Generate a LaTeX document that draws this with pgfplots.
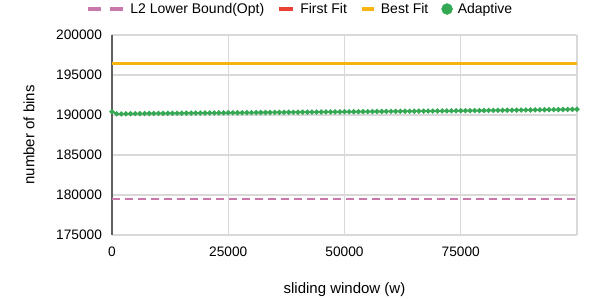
\documentclass[border=0pt]{standalone}
\usepackage{pgfplots}
\pgfplotsset{compat=1.18}
\usepackage{fontspec}
\setmainfont{Liberation Sans}
\definecolor{cpink}{HTML}{C878AA}
\definecolor{cred}{HTML}{EA4335}
\definecolor{cyel}{HTML}{F6B50E}
\definecolor{cgreen}{HTML}{34A853}
\definecolor{cgrid}{HTML}{D9D9D9}
\begin{document}
\begin{tikzpicture}[x=1pt,y=1pt]
\useasboundingbox (-112,-65) rectangle (486,235);
\begin{axis}[
  at={(0,0)}, anchor=south west,
  scale only axis, width=465pt, height=200pt,
  xmin=0, xmax=100000, ymin=175000, ymax=200000,
  xtick={0,25000,50000,75000,100000},
  xticklabels={0,25000,50000,75000,},
  ytick={175000,180000,185000,190000,195000,200000},
  scaled ticks=false,
  /pgf/number format/assume math mode=true,
  yticklabel={\pgfmathprintnumber[fixed,1000 sep={}]{\tick}},
  tick label style={font=\fontsize{13.7}{16}\selectfont},
  label style={font=\fontsize{15}{18}\selectfont},
  xlabel={sliding window (w)}, ylabel={number of bins},
  xlabel style={at={(0.5,0)}, yshift=-44pt},
  ylabel style={at={(0,0.5)}, yshift=74pt},
  grid=major, major grid style={cgrid, line width=1.3pt},
  axis line style={draw=none},
  tick style={draw=none},
  yticklabel style={xshift=-6.5pt},
  xticklabel style={yshift=-8pt},
  clip=false,
  legend style={at={(0.405,1.13)}, anchor=center, draw=none, fill=none,
    legend columns=4, font=\fontsize{14}{16}\selectfont,
    /tikz/every odd column/.append style={column sep=3pt},
    /tikz/every even column/.append style={column sep=11pt}},
]
\draw[cgrid, line width=1.3pt] (axis cs:0,175000) -- (axis cs:100000,175000);
\draw[gray!75!black, line width=1.5pt] (axis cs:0,175000) -- (axis cs:0,200000);
\addlegendimage{legend image code/.code={\draw[cpink, line width=4pt] (0pt,0pt) -- (13pt,0pt); \draw[cpink, line width=4pt] (22pt,0pt) -- (35pt,0pt);}}
\addlegendentry{L2 Lower Bound(Opt)}
\addlegendimage{legend image code/.code={\draw[cred, line width=4pt] (0pt,0pt) -- (14pt,0pt);}}
\addlegendentry{First Fit}
\addlegendimage{legend image code/.code={\draw[cyel, line width=4pt] (0pt,0pt) -- (12pt,0pt);}}
\addlegendentry{Best Fit}
\addlegendimage{legend image code/.code={\fill[cgreen] (5.5pt,0pt) circle (5.5pt);}}
\addlegendentry{Adaptive}
\addplot[cpink, line width=2pt, dash pattern=on 8pt off 5pt, forget plot] coordinates {(0,179450) (100000,179450)};
\addplot[cred, line width=3pt, forget plot] coordinates {(0,196450) (100000,196450)};
\addplot[cyel, line width=3pt, forget plot] coordinates {(0,196450) (100000,196450)};
\addplot[cgreen, line width=1.6pt, mark=*, mark size=1.7pt, forget plot] coordinates {
(0,190400) (1000,190150) (2000,190140) (3000,190150) (4000,190160) (5000,190170)
(6000,190175) (7000,190180) (8000,190190) (9000,190195) (10000,190200)
(11000,190205) (12000,190210) (13000,190215) (14000,190220) (15000,190225)
(16000,190230) (17000,190235) (18000,190240) (19000,190245) (20000,190250)
(21000,190255) (22000,190260) (23000,190265) (24000,190270) (25000,190275)
(26000,190280) (27000,190285) (28000,190290) (29000,190295) (30000,190300)
(31000,190305) (32000,190310) (33000,190315) (34000,190320) (35000,190325)
(36000,190330) (37000,190335) (38000,190340) (39000,190345) (40000,190350)
(41000,190355) (42000,190360) (43000,190365) (44000,190370) (45000,190375)
(46000,190380) (47000,190385) (48000,190390) (49000,190395) (50000,190400)
(51000,190405) (52000,190410) (53000,190415) (54000,190420) (55000,190425)
(56000,190430) (57000,190435) (58000,190440) (59000,190445) (60000,190450)
(61000,190455) (62000,190460) (63000,190465) (64000,190470) (65000,190475)
(66000,190480) (67000,190485) (68000,190490) (69000,190495) (70000,190500)
(71000,190505) (72000,190512) (73000,190518) (74000,190524) (75000,190530)
(76000,190536) (77000,190542) (78000,190548) (79000,190554) (80000,190560)
(81000,190567) (82000,190574) (83000,190581) (84000,190588) (85000,190595)
(86000,190602) (87000,190609) (88000,190616) (89000,190623) (90000,190630)
(91000,190638) (92000,190646) (93000,190654) (94000,190662) (95000,190670)
(96000,190678) (97000,190686) (98000,190694) (99000,190702) (100000,190710)
};
\end{axis}
\end{tikzpicture}
\end{document}
